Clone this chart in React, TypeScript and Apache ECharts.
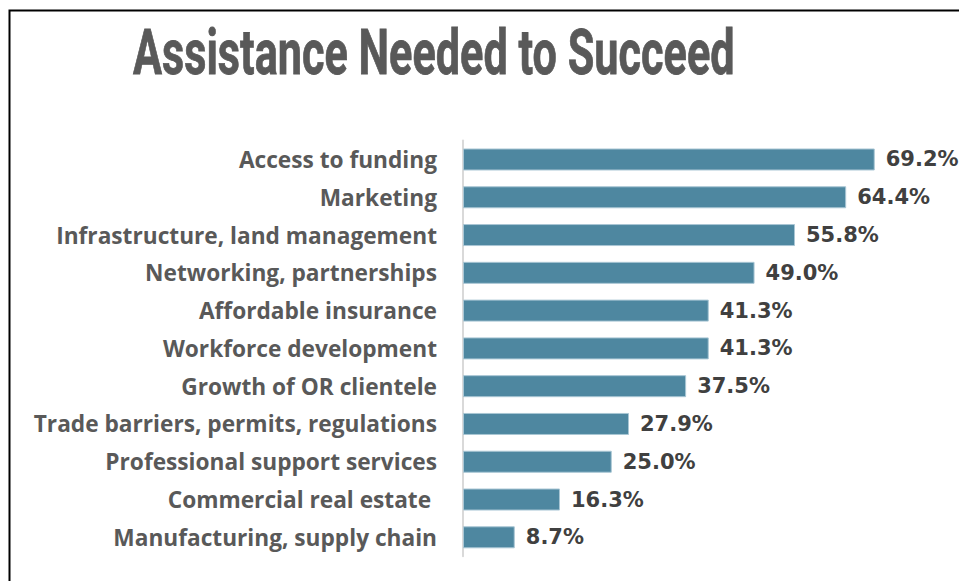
import React, { useEffect, useRef } from "react";
import * as echarts from "echarts";

const titleText = "Assistance Needed to Succeed";
const categories = [
  "Access to funding",
  "Marketing",
  "Infrastructure, land management",
  "Networking, partnerships",
  "Affordable insurance",
  "Workforce development",
  "Growth of OR clientele",
  "Trade barriers, permits, regulations",
  "Professional support services",
  "Commercial real estate ",
  "Manufacturing, supply chain",
];
const values = [69.2, 64.4, 55.8, 49.0, 41.3, 41.3, 37.5, 27.9, 25.0, 16.3, 8.7];

export default function App() {
  const ref = useRef<HTMLDivElement>(null);
  useEffect(() => {
    const chart = echarts.init(ref.current!, null, { renderer: "svg" });
    const ctx = document.createElement("canvas").getContext("2d")!;
    const titleFont = "bold 63px Roboto";
    ctx.font = titleFont;
    const w = ctx.measureText(titleText).width || 1000;
    const sx = 602 / w;
    ctx.font = "bold 20px 'Open Sans'";
    const cw = ctx.measureText("Infrastructure, land management").width || 350;
    let catSize = (20 * 381) / cw;
    if (catSize < 16 || catSize > 26) catSize = 21;
    chart.setOption({
      animation: false,
      backgroundColor: "#ffffff",
      graphic: [
        {
          type: "rect",
          silent: true,
          shape: { x: 9.5, y: 10.5, width: 1000, height: 1000 },
          style: { fill: "none", stroke: "#000000", lineWidth: 2 },
        },
        {
          type: "text",
          x: 133,
          y: 21,
          scaleX: sx,
          style: {
            text: titleText,
            font: titleFont,
            fill: "#595959",
            stroke: "#595959",
            lineWidth: 0.8,
            textVerticalAlign: "top",
          },
        },
      ],
      grid: { left: 463, top: 140.6, height: 415.6, right: 20 },
      xAxis: { type: "value", min: 0, max: 80, show: false },
      yAxis: {
        type: "category",
        data: categories,
        inverse: true,
        axisLine: { lineStyle: { color: "#d9d9d9", width: 2 } },
        axisTick: { show: false },
        axisLabel: {
          margin: 26,
          color: "#595959",
          fontFamily: "Open Sans",
          fontWeight: "bold",
          fontSize: catSize,
          padding: [0, 0, 5, 0],
        },
      },
      series: [
        {
          type: "bar",
          data: values,
          barWidth: 22,
          itemStyle: { color: "#4e87a0", borderColor: "#a9c6d4", borderWidth: 1 },
          label: {
            show: true,
            position: "right",
            distance: 11,
            formatter: (p: any) => Number(p.value).toFixed(1) + "%",
            color: "#404040",
            fontFamily: "DejaVu Sans",
            fontWeight: "bold",
            fontSize: 21,
          },
        },
      ],
    });
    return () => chart.dispose();
  }, []);
  return (
    <div
      ref={ref}
      style={{ position: "fixed", left: 0, top: 0, width: 959, height: 581 }}
    />
  );
}
